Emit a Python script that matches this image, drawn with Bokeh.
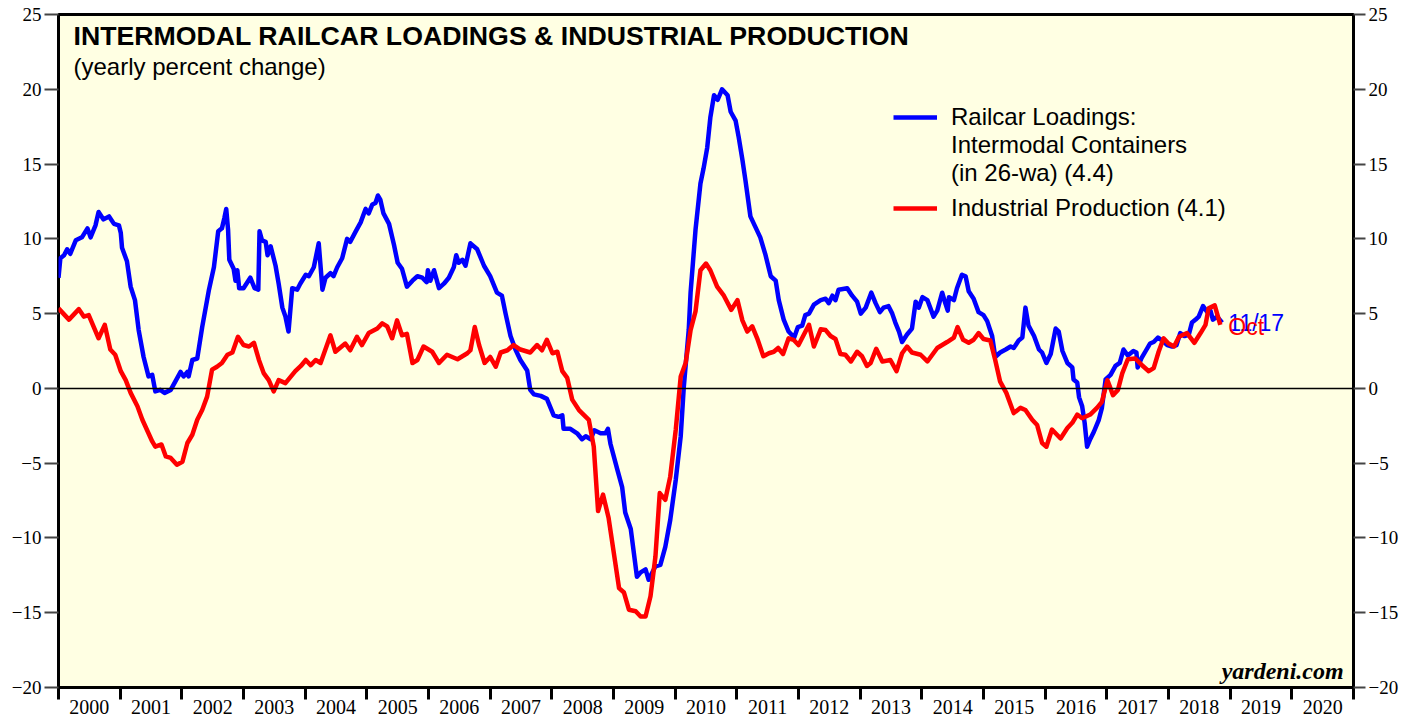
from bokeh.plotting import figure
from bokeh.models import Range1d, LinearAxis, FixedTicker, Span, Label, Legend, LegendItem
from bokeh.embed import file_html
from bokeh.resources import INLINE

# ---------------- data ----------------
year_bounds = list(range(2000, 2022))
year_labels = [str(y) for y in range(2000, 2021)]
y_ticks = list(range(-20, 30, 5))

# Railcar loadings: intermodal containers (26-wa), yearly % change
rail_t = [2000.00, 2000.03, 2000.09, 2000.14, 2000.19, 2000.28, 2000.33, 2000.38, 2000.47, 2000.52, 2000.60, 2000.65, 2000.73, 2000.82, 2000.90, 2000.98,
          2001.01, 2001.03, 2001.11, 2001.17, 2001.24, 2001.30, 2001.38, 2001.46, 2001.52, 2001.57, 2001.65, 2001.72, 2001.82, 2001.90, 2001.98,
          2002.03, 2002.09, 2002.11, 2002.17, 2002.25, 2002.33, 2002.44, 2002.52, 2002.59, 2002.65, 2002.69, 2002.72, 2002.75, 2002.77, 2002.84, 2002.87, 2002.90, 2002.93,
          2003.00, 2003.11, 2003.18, 2003.24, 2003.26, 2003.30, 2003.36, 2003.39, 2003.44, 2003.52, 2003.57, 2003.63, 2003.68, 2003.73, 2003.79, 2003.87, 2003.92,
          2004.01, 2004.06, 2004.14, 2004.22, 2004.28, 2004.33, 2004.41, 2004.46, 2004.52, 2004.60, 2004.68, 2004.73, 2004.82, 2004.90, 2004.98,
          2005.03, 2005.09, 2005.14, 2005.18, 2005.22, 2005.27, 2005.36, 2005.44, 2005.50, 2005.57, 2005.65, 2005.74, 2005.82, 2005.90, 2005.97, 2005.99,
          2006.03, 2006.09, 2006.17, 2006.25, 2006.33, 2006.41, 2006.45, 2006.49, 2006.55, 2006.60, 2006.68, 2006.79, 2006.90,
          2007.00, 2007.11, 2007.19, 2007.25, 2007.33, 2007.41, 2007.49, 2007.60, 2007.65, 2007.71, 2007.82, 2007.92, 2007.95,
          2008.03, 2008.11, 2008.17, 2008.19, 2008.30, 2008.41, 2008.49, 2008.55, 2008.63, 2008.69, 2008.79, 2008.87, 2008.91, 2008.95,
          2009.06, 2009.14, 2009.19, 2009.28, 2009.38, 2009.44, 2009.52, 2009.57, 2009.68, 2009.76, 2009.84, 2009.92,
          2010.01, 2010.09, 2010.14, 2010.22, 2010.25, 2010.33, 2010.41, 2010.46, 2010.52, 2010.57, 2010.63, 2010.69, 2010.76, 2010.85, 2010.90, 2010.98,
          2011.03, 2011.09, 2011.14, 2011.22, 2011.30, 2011.38, 2011.46, 2011.55, 2011.63, 2011.68, 2011.76, 2011.84, 2011.93, 2011.99,
          2012.06, 2012.11, 2012.17, 2012.25, 2012.36, 2012.44, 2012.49, 2012.55, 2012.60, 2012.65, 2012.79, 2012.87, 2012.95,
          2013.01, 2013.09, 2013.18, 2013.25, 2013.32, 2013.38, 2013.46, 2013.52, 2013.57, 2013.63, 2013.68, 2013.76, 2013.84, 2013.90, 2013.95,
          2014.01, 2014.09, 2014.19, 2014.25, 2014.33, 2014.38, 2014.42, 2014.44, 2014.52, 2014.57, 2014.65, 2014.71, 2014.76, 2014.84, 2014.92,
          2015.00, 2015.06, 2015.14, 2015.19, 2015.27, 2015.36, 2015.44, 2015.49, 2015.57, 2015.63, 2015.68, 2015.73, 2015.82, 2015.90, 2015.95,
          2016.02, 2016.09, 2016.17, 2016.22, 2016.28, 2016.36, 2016.44, 2016.46, 2016.52, 2016.55, 2016.60, 2016.64, 2016.68, 2016.73, 2016.79, 2016.87, 2016.92, 2016.98,
          2017.06, 2017.14, 2017.21, 2017.27, 2017.34, 2017.43, 2017.48, 2017.50, 2017.56, 2017.63, 2017.70, 2017.76, 2017.83, 2017.90, 2017.98,
          2018.06, 2018.13, 2018.19, 2018.26, 2018.33, 2018.38, 2018.44, 2018.49, 2018.56, 2018.63, 2018.68, 2018.72, 2018.79, 2018.87]
rail_v = [7.4, 8.7, 8.9, 9.3, 9.0, 9.9, 10.0, 10.1, 10.7, 10.1, 10.9, 11.8, 11.3, 11.5, 11.0, 10.9,
          10.4, 9.4, 8.5, 6.8, 5.9, 3.9, 2.1, 0.8, 0.9, -0.2, -0.1, -0.3, -0.1, 0.5, 1.1,
          0.8, 1.1, 0.8, 1.9, 2.0, 4.1, 6.6, 8.1, 10.5, 10.7, 11.4, 12.0, 10.6, 8.6, 8.0, 7.2, 7.9, 6.7,
          6.7, 7.4, 6.7, 6.6, 10.5, 9.9, 9.8, 8.9, 9.5, 8.2, 7.0, 5.4, 4.8, 3.8, 6.7, 6.6, 7.0,
          7.6, 7.5, 8.1, 9.7, 6.6, 7.4, 7.7, 7.5, 8.1, 8.7, 10.0, 9.8, 10.5, 11.1, 12.0,
          11.7, 12.3, 12.4, 12.9, 12.6, 11.7, 11.0, 9.6, 8.4, 8.0, 6.8, 7.2, 7.5, 7.4, 7.1, 7.9,
          7.2, 7.9, 6.7, 7.0, 7.4, 8.1, 8.9, 8.4, 8.6, 8.2, 9.7, 9.3, 8.2,
          7.5, 6.4, 6.2, 5.0, 3.5, 2.6, 1.9, 1.2, -0.1, -0.4, -0.5, -0.7, -1.0,
          -1.8, -1.9, -1.8, -2.7, -2.7, -3.0, -3.4, -3.2, -3.4, -2.8, -3.0, -3.0, -2.7, -3.7,
          -5.4, -6.6, -8.3, -9.4, -12.6, -12.3, -12.1, -12.8, -11.9, -11.8, -10.6, -8.8,
          -6.1, -3.2, 0.1, 3.9, 6.4, 10.6, 13.7, 14.7, 16.1, 18.1, 19.6, 19.3, 20.0, 19.6, 18.5, 17.9,
          16.8, 15.3, 13.9, 11.5, 10.8, 10.1, 9.0, 7.5, 7.2, 5.9, 4.6, 3.8, 3.4, 4.1,
          4.2, 4.9, 5.0, 5.6, 5.9, 6.0, 5.7, 6.2, 5.9, 6.6, 6.7, 6.2, 5.8,
          5.0, 5.4, 6.4, 5.7, 5.1, 5.4, 5.5, 5.0, 4.4, 3.8, 3.1, 3.6, 4.0, 5.8, 5.4,
          6.1, 5.9, 4.8, 5.2, 6.4, 5.7, 5.2, 6.1, 5.9, 6.7, 7.6, 7.5, 6.5, 6.0, 5.1,
          4.9, 4.5, 3.5, 2.1, 2.4, 2.6, 2.8, 2.7, 3.2, 3.4, 5.4, 4.2, 3.5, 2.6, 2.4,
          1.7, 2.3, 4.0, 3.8, 2.5, 1.7, 1.4, 0.6, 0.4, -0.6, -1.2, -2.3, -3.9, -3.4, -2.9, -2.1, -1.3, 0.6,
          0.9, 1.5, 1.7, 2.6, 2.2, 2.5, 2.4, 1.4, 2.0, 2.5, 3.0, 3.1, 3.4, 3.2, 2.9,
          2.8, 2.9, 3.7, 3.5, 3.6, 4.4, 4.6, 4.8, 5.5, 5.1, 5.2, 4.6, 4.8, 4.4]

# Industrial production, yearly % change
ip_t = [2000.00, 2000.17, 2000.33, 2000.41, 2000.49, 2000.65, 2000.75, 2000.84, 2000.92,
        2001.01, 2001.09, 2001.17, 2001.28, 2001.36, 2001.52, 2001.57, 2001.67, 2001.74, 2001.82, 2001.92,
        2002.01, 2002.09, 2002.17, 2002.25, 2002.33, 2002.41, 2002.49, 2002.57, 2002.65, 2002.74, 2002.82, 2002.91,
        2003.00, 2003.09, 2003.17, 2003.25, 2003.33, 2003.41, 2003.49, 2003.57, 2003.68, 2003.84, 2003.93,
        2004.01, 2004.09, 2004.17, 2004.25, 2004.41, 2004.49, 2004.65, 2004.73, 2004.84, 2004.92,
        2005.03, 2005.17, 2005.25, 2005.33, 2005.41, 2005.49, 2005.57, 2005.65, 2005.74, 2005.82, 2005.92,
        2006.06, 2006.17, 2006.30, 2006.47, 2006.63, 2006.68, 2006.75, 2006.82, 2006.91,
        2007.00, 2007.09, 2007.17, 2007.28, 2007.38, 2007.49, 2007.65, 2007.76, 2007.84, 2007.92,
        2008.01, 2008.09, 2008.17, 2008.25, 2008.33, 2008.44, 2008.60, 2008.68, 2008.75, 2008.83, 2008.92,
        2009.09, 2009.17, 2009.25, 2009.36, 2009.44, 2009.52, 2009.60, 2009.68, 2009.75, 2009.84, 2009.92,
        2010.01, 2010.09, 2010.17, 2010.25, 2010.33, 2010.41, 2010.50, 2010.57, 2010.68, 2010.79, 2010.91,
        2011.01, 2011.09, 2011.17, 2011.25, 2011.33, 2011.43, 2011.52, 2011.60, 2011.67, 2011.75, 2011.84, 2011.92,
        2012.00, 2012.17, 2012.25, 2012.36, 2012.44, 2012.52, 2012.60, 2012.68, 2012.76, 2012.85, 2012.95,
        2013.03, 2013.11, 2013.17, 2013.26, 2013.36, 2013.49, 2013.59, 2013.68, 2013.76, 2013.84, 2013.98,
        2014.09, 2014.25, 2014.41, 2014.52, 2014.58, 2014.67, 2014.76, 2014.84, 2014.92,
        2015.00, 2015.11, 2015.19, 2015.27, 2015.37, 2015.49, 2015.60, 2015.68, 2015.79, 2015.87, 2015.95,
        2016.02, 2016.11, 2016.25, 2016.36, 2016.44, 2016.52, 2016.60, 2016.73, 2016.84, 2016.92,
        2017.01, 2017.10, 2017.18, 2017.25, 2017.34, 2017.46, 2017.57, 2017.68, 2017.76, 2017.84, 2017.92,
        2018.00, 2018.09, 2018.17, 2018.30, 2018.42, 2018.52, 2018.60, 2018.65, 2018.75, 2018.84]
ip_v = [5.35, 4.6, 5.3, 4.8, 4.9, 3.35, 4.25, 2.6, 2.25,
        1.15, 0.55, -0.3, -1.2, -2.1, -3.55, -3.9, -3.75, -4.55, -4.65, -5.1,
        -4.9, -3.65, -3.1, -2.1, -1.45, -0.55, 1.25, 1.45, 1.7, 2.25, 2.4, 3.45,
        2.9, 2.8, 3.05, 1.9, 1.0, 0.55, -0.2, 0.55, 0.35, 1.15, 1.5,
        1.9, 1.55, 1.9, 1.7, 3.55, 2.45, 3.0, 2.55, 3.45, 2.9,
        3.7, 4.0, 4.35, 4.15, 3.35, 4.55, 3.55, 3.65, 1.7, 1.9, 2.8,
        2.45, 1.7, 2.25, 1.95, 2.35, 2.55, 4.1, 2.9, 1.7,
        2.1, 1.45, 2.4, 2.55, 2.9, 2.6, 2.4, 2.9, 2.55, 3.25,
        2.35, 2.45, 1.15, 0.7, -0.75, -1.45, -2.1, -3.9, -8.2, -7.1, -8.65,
        -13.35, -13.65, -14.8, -14.9, -15.25, -15.25, -13.9, -11.25, -7.0, -7.45, -5.9,
        -2.75, 0.8, 1.7, 3.9, 5.15, 7.9, 8.35, 7.9, 6.8, 6.2, 5.25,
        5.9, 4.55, 3.8, 4.15, 3.35, 2.15, 2.35, 2.45, 2.7, 2.3, 3.35, 3.25,
        2.9, 4.25, 2.8, 3.95, 3.9, 3.5, 3.3, 2.3, 2.25, 1.8, 2.45,
        2.15, 1.5, 1.7, 2.65, 1.8, 1.9, 1.15, 2.35, 2.8, 2.4, 2.25,
        1.8, 2.7, 3.1, 3.4, 4.1, 3.25, 3.05, 3.25, 3.7,
        3.3, 3.2, 1.9, 0.45, -0.3, -1.65, -1.3, -1.45, -2.1, -2.45, -3.65,
        -3.9, -2.75, -3.35, -2.65, -2.3, -1.75, -2.0, -1.75, -1.3, -0.9,
        0.55, -0.45, -0.1, 1.0, 1.95, 2.0, 1.55, 1.15, 1.35, 2.45, 3.35,
        3.0, 2.8, 3.45, 3.7, 3.05, 3.7, 4.25, 5.35, 5.55, 4.25]

rail_last_label = "11/17"
ip_last_label = "Oct"
rail_latest = 4.4
ip_latest = 4.1

title_text = "INTERMODAL RAILCAR LOADINGS & INDUSTRIAL PRODUCTION"
subtitle_text = "(yearly percent change)"
rail_legend = ["Railcar Loadings:", "Intermodal Containers", "(in 26-wa) (4.4)"]
ip_legend = "Industrial Production (4.1)"

BLUE = "#0000FF"
RED = "#FF0000"
SANS = "Liberation Sans"
SERIF = "Liberation Serif"

# ---------------- figure ----------------
p = figure(width=1412, height=716,
           x_range=Range1d(2000, 2021), y_range=Range1d(-20, 25),
           output_backend="svg", toolbar_location=None,
           min_border_left=58, min_border_right=59, min_border_top=14, min_border_bottom=28,
           background_fill_color="#FFFFE3", border_fill_color="white",
           outline_line_color="black", outline_line_width=3)
p.xgrid.visible = False
p.ygrid.visible = False

# x axis: year boundaries as (minor) ticks, year labels in the middle of each year
xa = p.xaxis[0]
xa.ticker = FixedTicker(ticks=[y + 0.5 for y in range(2000, 2021)], minor_ticks=year_bounds)
xa.major_label_overrides = {y + 0.5: lbl for y, lbl in zip(range(2000, 2021), year_labels)}
xa.major_tick_out = 0
xa.major_tick_in = 0
xa.major_tick_line_color = None
xa.minor_tick_out = 12
xa.minor_tick_in = 0
xa.minor_tick_line_color = "black"
xa.minor_tick_line_width = 3
xa.axis_line_color = None
xa.major_label_standoff = 0
xa.major_label_text_font = SERIF
xa.major_label_text_font_size = "20px"
xa.major_label_text_color = "black"

def style_y(ax, out):
    ax.ticker = FixedTicker(ticks=y_ticks)
    ax.major_tick_out = out
    ax.major_tick_in = 0
    ax.major_tick_line_color = "#444444"
    ax.major_tick_line_width = 2
    ax.minor_tick_line_color = None
    ax.axis_line_color = None
    ax.major_label_standoff = 3
    ax.major_label_text_font = SERIF
    ax.major_label_text_font_size = "19px"
    ax.major_label_text_color = "black"

style_y(p.yaxis[0], 14)
ra = LinearAxis()
style_y(ra, 12)
p.add_layout(ra, "right")

p.add_layout(Span(location=0, dimension="width", line_color="black", line_width=1.5))

blue = p.line(rail_t, rail_v, line_color=BLUE, line_width=4.5, line_join="round")
red = p.line(ip_t, ip_v, line_color=RED, line_width=4.5, line_join="round")
ghost = p.line([], [], line_alpha=0)

# end-of-series labels
p.add_layout(Label(x=rail_t[-1] + 0.1, y=rail_latest, text=rail_last_label, text_color=BLUE,
                   text_font=SANS, text_font_size="23px", text_baseline="middle"))
p.add_layout(Label(x=rail_t[-1] + 0.1, y=ip_latest, text=ip_last_label, text_color=RED,
                   text_font=SANS, text_font_size="23px", text_baseline="middle"))

# title / subtitle / source
p.add_layout(Label(x=15, y=23.55, x_units="screen", text=title_text, text_font=SANS,
                   text_font_size="26.7px", text_font_style="bold", text_baseline="middle", text_color="black"))
p.add_layout(Label(x=15, y=21.55, x_units="screen", text=subtitle_text, text_font=SANS,
                   text_font_size="24px", text_baseline="middle", text_color="black"))
p.add_layout(Label(x=2020.84, y=-18.9, text="yardeni.com", text_font=SERIF,
                   text_font_size="24px", text_font_style="bold italic", text_align="right",
                   text_baseline="middle", text_color="black"))

# legends (location = bottom-left corner, in px from the frame's bottom-left)
def make_legend(items, loc):
    return Legend(items=items, location=loc, orientation="vertical",
                  glyph_width=44, glyph_height=20, label_standoff=14, spacing=0, padding=0, margin=0,
                  border_line_color=None, background_fill_alpha=0,
                  label_text_font=SANS, label_text_font_size="24px", label_height=20,
                  label_text_line_height=1.02, label_text_color="black")

leg1 = make_legend([LegendItem(label=rail_legend[0], renderers=[blue]),
                    LegendItem(label=rail_legend[1], renderers=[ghost]),
                    LegendItem(label=rail_legend[2], renderers=[ghost])], (835, 500))
leg2 = make_legend([LegendItem(label=ip_legend, renderers=[red])], (835, 465))
p.add_layout(leg1, "center")
p.add_layout(leg2, "center")

open("out.html", "w").write(file_html(p, INLINE))
